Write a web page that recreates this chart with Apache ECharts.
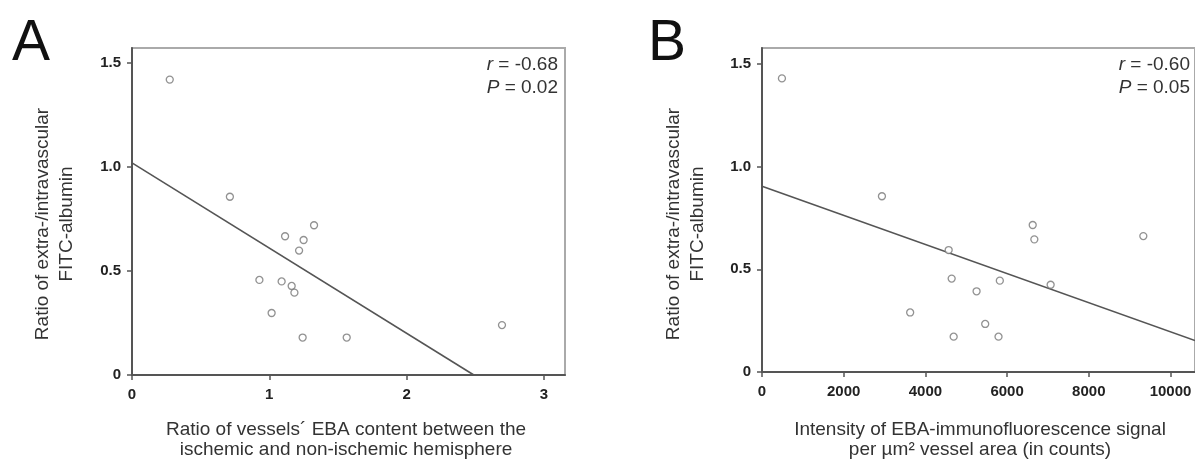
<!DOCTYPE html>
<html>
<head>
<meta charset="utf-8">
<script src="https://cdn.jsdelivr.net/npm/echarts@6/dist/echarts.min.js"></script>
<style>
html,body{margin:0;padding:0;background:#fff;}
#c{width:1195px;height:462px;}
</style>
</head>
<body>
<div id="c"></div>
<script>
// Panel A data
const aX = [0.275, 0.713, 1.326, 1.115, 1.25, 1.217, 0.928, 1.09, 1.163, 1.183, 1.017, 1.243, 1.564, 2.695];
const aY = [1.42, 0.857, 0.72, 0.667, 0.649, 0.598, 0.457, 0.45, 0.428, 0.396, 0.298, 0.18, 0.18, 0.24];
const aFitX = [0, 2.49];
const aFitY = [1.02, 0];
const aXTicks = [0, 1, 2, 3];
// Panel B data
const bX = [488, 2936, 6627, 6667, 9335, 4570, 4643, 5822, 7066, 5253, 3627, 5464, 4692, 5790];
const bY = [1.43, 0.856, 0.716, 0.646, 0.662, 0.594, 0.455, 0.445, 0.425, 0.393, 0.29, 0.234, 0.172, 0.172];
const bFitX = [0, 10600];
const bFitY = [0.905, 0.153];
const bXTicks = [0, 2000, 4000, 6000, 8000, 10000];
const yTicks = [0, 0.5, 1.0, 1.5];

const yTitle = 'Ratio of extra-/intravascular\nFITC-albumin';
const aXTitle = 'Ratio of vessels\u00b4 EBA content between the\nischemic and non-ischemic hemisphere';
const bXTitle = 'Intensity of EBA-immunofluorescence signal\nper \u00b5m\u00b2 vessel area (in counts)';

const FONT = '"Liberation Sans", Arial, sans-serif';
const axisColor = '#555';

function pairs(xs, ys){ return xs.map((x,i)=>[x, ys[i]]); }

function xAxis(idx, max, interval){
  return {
    type:'value', gridIndex:idx, min:0, max:max, interval:interval,
    axisLine:{show:true, lineStyle:{color:axisColor, width:2}},
    axisTick:{show:true, length:5, lineStyle:{color:axisColor, width:1.5}},
    axisLabel:{color:'#222', fontFamily:FONT, fontWeight:'bold', fontSize:15, margin:12,
      showMaxLabel:false,
      formatter:(v)=> String(v)},
    splitLine:{show:false}
  };
}
function yAxis(idx, max){
  return {
    type:'value', gridIndex:idx, min:0, max:max, interval:0.5,
    axisLine:{show:true, lineStyle:{color:axisColor, width:2}},
    axisTick:{show:true, length:5, lineStyle:{color:axisColor, width:1.5}},
    axisLabel:{color:'#222', fontFamily:FONT, fontWeight:'bold', fontSize:15, margin:11,
      showMaxLabel:false,
      formatter:(v)=> v===0 ? '0' : v.toFixed(1)},
    splitLine:{show:false}
  };
}

const rich = {i:{fontStyle:'italic', fontSize:19, fontFamily:FONT, fill:'#333'}};

const chart = echarts.init(document.getElementById('c'), null, {renderer:'canvas'});
const option = {
  animation:false,
  backgroundColor:'#fff',
  grid:[
    {left:132, top:48, width:433, height:327, show:true, borderColor:'#aaa', borderWidth:2, backgroundColor:'transparent'},
    {left:762, top:48, width:434.6, height:324, show:true, borderColor:'#aaa', borderWidth:2, backgroundColor:'transparent'}
  ],
  xAxis:[ xAxis(0, 3.154, 1), xAxis(1, 10600, 2000) ],
  yAxis:[ yAxis(0, 1.572), yAxis(1, 1.578) ],
  series:[
    {type:'line', xAxisIndex:0, yAxisIndex:0, data:pairs(aFitX, aFitY), symbol:'none',
      lineStyle:{color:'#555', width:1.6}, z:2},
    {type:'scatter', xAxisIndex:0, yAxisIndex:0, data:pairs(aX, aY), symbol:'circle', symbolSize:7,
      itemStyle:{color:'#fff', borderColor:'#777', borderWidth:1.3}, z:3},
    {type:'line', xAxisIndex:1, yAxisIndex:1, data:pairs(bFitX, bFitY), symbol:'none',
      lineStyle:{color:'#555', width:1.6}, z:2},
    {type:'scatter', xAxisIndex:1, yAxisIndex:1, data:pairs(bX, bY), symbol:'circle', symbolSize:7,
      itemStyle:{color:'#fff', borderColor:'#777', borderWidth:1.3}, z:3}
  ],
  graphic:[
    {type:'text', left:12, top:16, style:{text:'A', font:'57px ' + FONT, fill:'#111'}},
    {type:'text', left:648, top:16, style:{text:'B', font:'57px ' + FONT, fill:'#111'}},
    // correlation texts
    {type:'text', x:558, y:65, style:{text:'{i|r} = -0.68', align:'right', verticalAlign:'middle',
      rich:rich, font:'19px ' + FONT, fill:'#333'}},
    {type:'text', x:558, y:88, style:{text:'{i|P} = 0.02', align:'right', verticalAlign:'middle',
      rich:rich, font:'19px ' + FONT, fill:'#333'}},
    {type:'text', x:1190, y:65, style:{text:'{i|r} = -0.60', align:'right', verticalAlign:'middle',
      rich:rich, font:'19px ' + FONT, fill:'#333'}},
    {type:'text', x:1190, y:88, style:{text:'{i|P} = 0.05', align:'right', verticalAlign:'middle',
      rich:rich, font:'19px ' + FONT, fill:'#333'}},
    // y titles
    {type:'text', x:55, y:224, rotation:Math.PI/2, style:{text:yTitle, align:'center', verticalAlign:'middle',
      font:'19px ' + FONT, fill:'#333', lineHeight:24}},
    {type:'text', x:686, y:224, rotation:Math.PI/2, style:{text:yTitle, align:'center', verticalAlign:'middle',
      font:'19px ' + FONT, fill:'#333', lineHeight:24}},
    // x titles
    {type:'text', x:346, y:440, style:{text:aXTitle, align:'center', verticalAlign:'middle',
      font:'19px ' + FONT, fill:'#333', lineHeight:20}},
    {type:'text', x:980, y:440, style:{text:bXTitle, align:'center', verticalAlign:'middle',
      font:'19px ' + FONT, fill:'#333', lineHeight:20}}
  ]
};
chart.setOption(option);
</script>
</body>
</html>
